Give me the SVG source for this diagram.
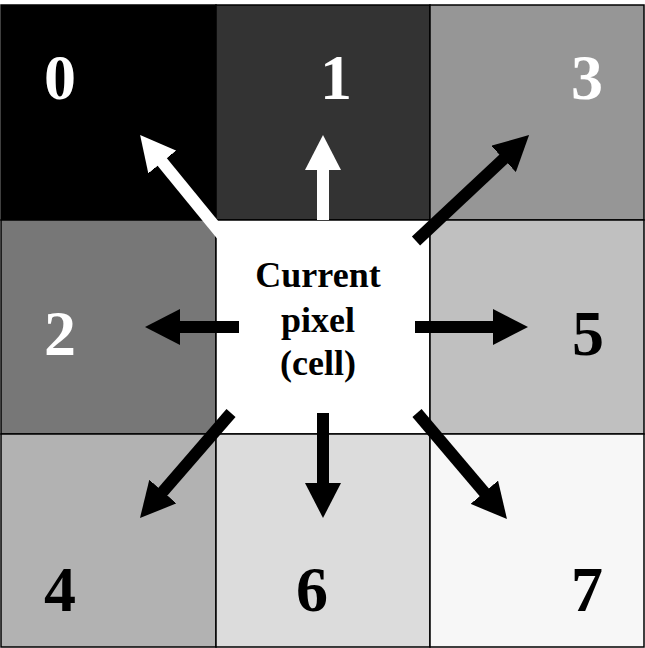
<svg xmlns="http://www.w3.org/2000/svg" width="645" height="648" viewBox="0 0 645 648">
<style>
.cell{stroke:#000;stroke-width:1.5}
.num{font-family:'Liberation Serif',Times,serif;font-weight:700;font-size:64px;text-anchor:middle}
.lbl{font-family:'Liberation Serif',Times,serif;font-weight:700;font-size:36px;text-anchor:middle;fill:#000}
.w{fill:#fff}
.b{fill:#000}
.aw{stroke:#fff;stroke-width:12;fill:none;marker-end:url(#hw)}
.ab{stroke:#000;stroke-width:12;fill:none;marker-end:url(#hb)}
</style>
<defs>
<marker id="hw" markerUnits="userSpaceOnUse" markerWidth="36" markerHeight="36" refX="2" refY="18" orient="auto" viewBox="0 0 36 36"><path d="M0,0 L35,18 L0,36 z" fill="#fff"/></marker>
<marker id="hb" markerUnits="userSpaceOnUse" markerWidth="36" markerHeight="36" refX="2" refY="18" orient="auto" viewBox="0 0 36 36"><path d="M0,0 L35,18 L0,36 z" fill="#000"/></marker>
</defs>
<rect width="645" height="648" fill="#fff"/>
<g id="cell0"><rect class="cell" x="1" y="5" width="215" height="215" fill="#000"/><text class="num w" x="60" y="99">0</text></g>
<g id="cell1"><rect class="cell" x="216" y="5" width="214" height="215" fill="#333"/><text class="num w" x="336" y="99">1</text></g>
<g id="cell3"><rect class="cell" x="430" y="5" width="214" height="215" fill="#969696"/><text class="num w" x="587" y="99">3</text></g>
<g id="cell2"><rect class="cell" x="1" y="220" width="215" height="214" fill="#777"/><text class="num w" x="60" y="355">2</text></g>
<g id="center"><rect class="cell" x="216" y="220" width="214" height="214" fill="#fff"/>
<text class="lbl" x="318" y="287">Current</text><text class="lbl" x="318" y="332">pixel</text><text class="lbl" x="318" y="375">(cell)</text></g>
<g id="cell5"><rect class="cell" x="430" y="220" width="214" height="214" fill="#c0c0c0"/><text class="num b" x="588" y="355">5</text></g>
<g id="cell4"><rect class="cell" x="1" y="434" width="215" height="213" fill="#b2b2b2"/><text class="num b" x="60" y="611">4</text></g>
<g id="cell6"><rect class="cell" x="216" y="434" width="214" height="213" fill="#dcdcdc"/><text class="num b" x="312" y="611">6</text></g>
<g id="cell7"><rect class="cell" x="430" y="434" width="214" height="213" fill="#f7f7f7"/><text class="num b" x="587" y="611">7</text></g>
<g id="connectors">
<line class="aw" x1="323" y1="220" x2="323" y2="168"/>
<line class="aw" x1="226" y1="240" x2="161" y2="160.5"/>
<line class="ab" x1="416" y1="241" x2="505" y2="157.6"/>
<line class="ab" x1="239" y1="327" x2="178" y2="327"/>
<line class="ab" x1="415" y1="327" x2="495" y2="327"/>
<line class="ab" x1="231" y1="413" x2="161.6" y2="493.1"/>
<line class="ab" x1="323" y1="413" x2="323" y2="485"/>
<line class="ab" x1="417" y1="413" x2="485.6" y2="493.8"/>
</g>
</svg>
